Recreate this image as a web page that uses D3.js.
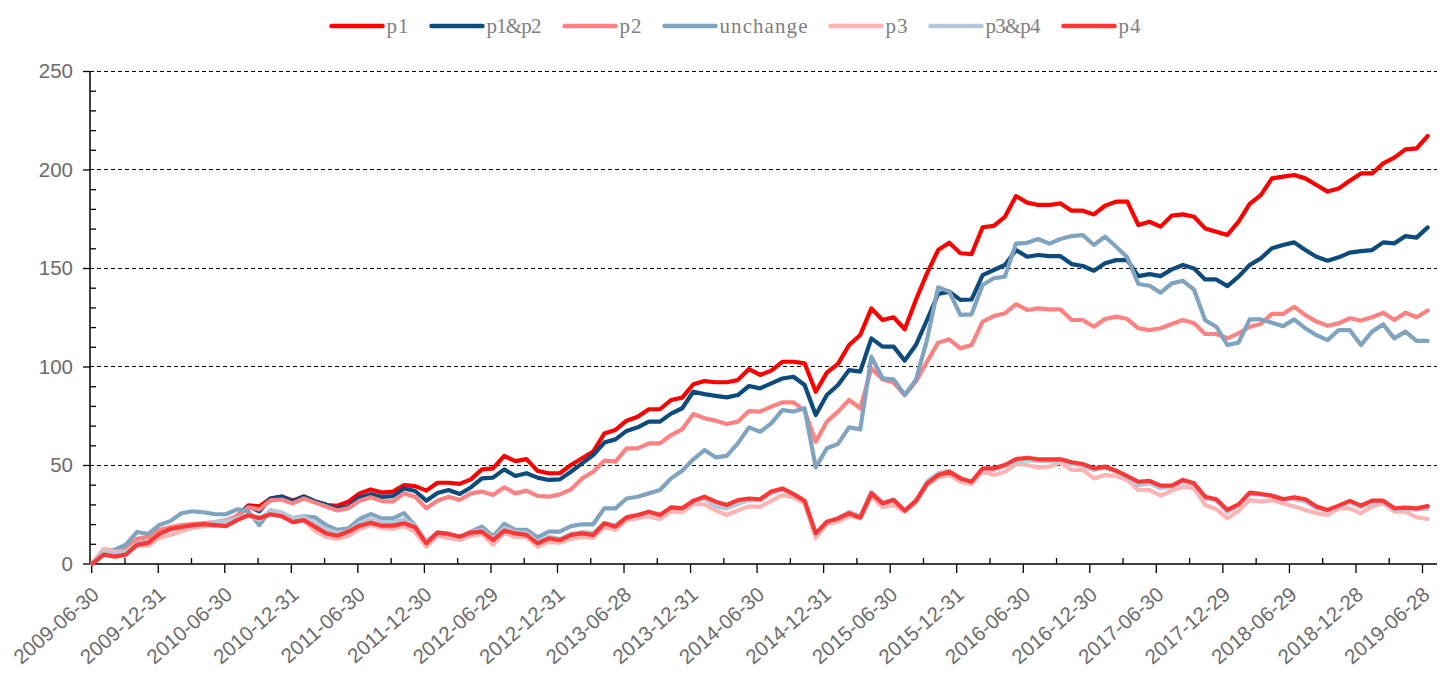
<!DOCTYPE html>
<html><head><meta charset="utf-8">
<script src="https://cdn.jsdelivr.net/npm/d3@7/dist/d3.min.js"></script>
<style>body{margin:0;background:#fff}</style>
</head><body>
<svg id="chart" width="1452" height="684"></svg>
<script>
// ---------- data ----------
const seriesNames = ["p1", "p1&p2", "p2", "unchange", "p3", "p3&p4", "p4"];
const tickLabels = ["2009-06-30","2009-12-31","2010-06-30","2010-12-31","2011-06-30","2011-12-30",
  "2012-06-29","2012-12-31","2013-06-28","2013-12-31","2014-06-30","2014-12-31","2015-06-30",
  "2015-12-31","2016-06-30","2016-12-30","2017-06-30","2017-12-29","2018-06-29","2018-12-28","2019-06-28"];
const yTicks = [0, 50, 100, 150, 200, 250];

const p1 = [0,5,4,5,10,11,15.5,17.5,18.5,19.5,20,19.5,21,24,29.5,29,33,34,32,34,
  31.4,29.7,29.3,31.4,35.6,37.6,36,36.5,39.8,39.3,37,41,41,40.4,42.7,47.8,48.3,54.6,52,53,
  47,45.8,45.8,50,53.4,56.8,66,67.8,72.5,74.5,78.3,78.3,83,84.2,91,92.6,92,92,93.1,98.7,
  95.7,97.9,102.4,102.4,101.6,87.2,96.9,101.3,110.9,116,129.5,123.6,125,118.9,133.8,147.3,159.1,162.8,157.5,157,
  170.7,171.4,176,186.5,183.2,182,182,182.8,179.1,179.1,177.2,181.6,183.7,183.7,171.8,173.5,171,176.6,177.2,176,
  170.1,168.4,166.8,173.5,182.5,187,195.5,196.4,197.2,195.5,192.1,188.8,190.4,194.3,198,198,203.1,206,210.2,210.7,217];
const p1p2 = [0,5,4,5,10,11,15.5,17.5,18.5,19.5,20,19.5,21,24,29,26.5,33,34,31.5,34,
  31.6,29.9,27.8,29,33.5,35.2,33.8,34.2,38.1,36.8,31.9,35.8,37.3,35.3,38.6,43.2,43.6,47.8,44.4,45.8,
  43.6,42.4,42.7,46.6,50.8,55,61.4,63,67.3,69.1,72,72,76.1,78.8,87.2,86,85.1,84.3,85.5,90.1,
  88.9,91.4,93.9,94.8,90.6,75.4,85.5,90.6,98.2,97.4,114.3,110.1,110.1,103,110.9,123.6,136.8,138,133.8,134,
  146.4,149,151.5,159.1,155.7,156.6,156,156,152,151,148.6,152.4,154,154,145.9,146.9,145.9,149.3,151.5,149.8,
  144.2,144.2,140.8,145.6,151.5,154.9,160,161.7,163,159.1,155.7,153.7,155.4,157.8,158.6,159.1,163,162.5,166.2,165.4,170.6];
const p2 = [0,7,6.5,8,12.5,13.5,17,18.5,19.5,20,20.5,21,22,24,28.5,27.5,32,32.5,30.5,33,
  30.9,28.9,26.9,28.1,31.9,33.6,31.7,31.4,35.6,33.9,28,31.9,33.9,32.2,35.6,36.5,34.8,38.7,35.6,37,
  34.3,33.9,35.1,37.6,43.2,46.6,52.2,51.7,58.4,58.4,61,61,65.2,68.1,75.9,73.7,72.5,70.8,72,77.4,
  77.1,79.6,81.8,81.8,77.6,61.8,72,77.1,83,78.8,99.1,93.5,91.8,85.5,92.3,102.4,112.1,113.8,109.2,110.9,
  122.8,125.6,127,131.7,128.7,129.5,129,129,123.6,123.6,120.2,124.1,125.3,124.1,119.4,118.5,119.4,121.6,123.6,121.9,
  116.5,116.5,114.3,116.8,120.2,121.6,126.7,126.7,130.3,126.1,122.8,120.7,121.9,124.5,123.3,125,127.3,123.6,127.3,125,128.4];
const unchange = [0,6,7,9.5,16,15,19.5,21.5,25.5,26.5,26,25,25,27.5,26.5,19.5,27,25.5,23,24,
  23.4,19.5,17.1,17.8,22.6,25.1,22.9,22.9,25.6,19.1,11.1,15.7,15,13.3,16.2,18.7,13.7,20.1,17.1,17.1,
  13.3,16.2,16.2,19,19.9,19.9,28,28,33,33.9,35.6,37.3,43.2,47.1,52.9,57.6,53.9,54.6,61,69.1,
  66.9,71.1,77.9,77.1,78.8,48.8,58.5,60.7,69.1,68.1,105,94,93.5,85.5,93.1,113.5,140.2,138,126.2,126.5,
  141.4,144.8,145.6,162.4,162.8,164.7,162.4,164.7,166.2,166.7,161.7,165.9,160.8,155.4,141.9,141,137.5,142.2,143.5,139,
  123.5,120.2,110.9,112.1,123.9,123.9,122.2,120.5,123.9,119.4,115.9,113.4,118.5,118.5,110.9,117.7,121.4,114.3,117.7,113,113];
const p3 = [0,7.5,6,6,9,9,13,14.5,16.5,18,19,19.5,20.5,22.5,24.5,23.5,25,24,21.5,22,
  16.5,13.5,12.5,14,17.5,19.5,18,17.5,19,16,8.5,14,13,12,14,15,9.5,15.5,13.5,13.5,
  8.5,11,10.5,12.5,13.5,13,18.7,17,22,23,24,22.5,26.5,26,30.2,30,27,24.6,27,29,
  28.8,31.8,34.7,33.6,30.5,12.8,20,21.2,24.1,22.9,34.3,28.6,29.7,26.3,30.9,39.8,43.7,44.9,41.5,40.3,
  46.6,44.9,46.6,50.5,50,48.8,49.2,51.2,47.5,47.5,43.2,44.9,44.4,42.4,37.3,37.3,34.4,37,39,38.2,
  29.7,27.5,22.9,26.8,32.2,31.4,32.2,30.5,28.9,27.2,25.5,24.6,28,28,25.5,28.9,30.5,26.3,26.3,23.4,22.6];
const p3p4 = [0,6,5,6,10,11,15,17,18.5,19.5,20,21,21.5,23,24.5,22,27,26,23,23.5,
  20.5,17.5,15.5,16.5,20.5,22.5,21,21,22.5,19,11,15.5,15,13.5,16,17,12.5,18,16,15.5,
  11,13.5,12.5,15,16,15.5,20.5,19.5,23.5,24.5,26,24.5,28.5,28,31.5,33,29,28,30.2,32.2,
  32,35.5,37.5,35,31.5,14.5,21,23,26.3,24,36.5,31,32.5,27,32,41.5,45.8,47.1,43.5,41,
  47.5,47.5,49.5,51.7,52.5,52,52,52.2,50.5,49.5,47.5,48.5,46.5,43.5,39.8,40.7,38.2,39,41.5,40,
  33,32,26,29.4,35.5,35,34.7,33,32.5,31.5,28,26.5,29,31,28.5,31,31,27.5,27.5,27.3,27.8];
const p4 = [0,4.5,3.5,4.5,9.5,10.5,15,17.5,18.5,19.5,20,19.5,19,22,24.5,23,25,24,21,22,
  18.6,15.3,14.1,16.2,19.2,20.7,19.2,19.2,20.4,18.4,10.2,15.7,15,13.6,15.7,16.2,11.9,16.7,15.3,14.5,
  10.2,12.8,11.9,14.5,15.3,14.5,20.4,18.7,23.4,24.6,26.3,24.6,28.5,28,31.9,33.9,31.4,29.7,32.2,33,
  32.6,36.5,38.1,35.2,31.8,15.3,21.2,22.9,25.5,23.3,35.6,30.5,32.2,26.8,31.8,40.6,44.9,46.6,43.2,41.5,
  48.3,48.3,50,53,53.7,52.9,52.9,52.9,51.4,50.5,48.3,49.2,47.1,44.4,41.5,41.9,39.5,39.5,42.4,40.7,
  33.9,32.6,27.2,30,36,35.3,34.4,32.6,33.6,32.6,28.9,27.2,29.4,31.8,29.4,31.9,31.9,28,28.4,28,29.1];

const seriesValues = [p1, p1p2, p2, unchange, p3, p3p4, p4];
const seriesColors = ["#ff0000", "#0c4b7c", "#ff8282", "#80a3c0", "#ffb3b3", "#b3c9db", "#ff3636"];

// ---------- layout ----------
const svg = d3.select("#chart");
const W = 1452;
const plotLeft = 90, plotRight = 1437, plotTop = 71, plotBottom = 564;
const labelColor = "#6b6b6b";

const y = d3.scaleLinear().domain([0, 250]).range([563.5, plotTop]);
const xData = d3.scaleLinear().domain([0, p1.length - 1]).range([92.5, 1427.7]);
const xTick = d3.scaleLinear().domain([0, tickLabels.length - 1]).range([91.2, 1422]);

// grid lines
svg.append("g").selectAll("line").data(yTicks.filter(d => d > 0)).join("line")
  .attr("x1", plotLeft).attr("x2", plotRight)
  .attr("y1", d => y(d)).attr("y2", d => y(d))
  .attr("stroke", "#000").attr("stroke-width", 1).attr("stroke-dasharray", "4,3")
  .attr("shape-rendering", "crispEdges");

// y axis major
const yAxisG = svg.append("g").attr("transform", `translate(${plotLeft},0)`)
  .call(d3.axisLeft(y).tickValues(yTicks).tickSize(7).tickPadding(10).tickFormat(d3.format("d")));
yAxisG.select(".domain").remove();
yAxisG.selectAll("line").attr("stroke", "#000").attr("stroke-width", 1.3);
yAxisG.selectAll("text").attr("font-family", "'Liberation Sans', Arial, sans-serif")
  .attr("font-size", 20.5).attr("fill", labelColor);
// y axis minor (inside)
const yMinor = d3.range(0, 251, 10).filter(d => d % 50 !== 0);
const yMinorG = svg.append("g").attr("transform", `translate(${plotLeft},0)`)
  .call(d3.axisRight(y).tickValues(yMinor).tickSize(6).tickFormat(""));
yMinorG.select(".domain").remove();
yMinorG.selectAll("line").attr("stroke", "#000").attr("stroke-width", 1.3);
svg.append("line").attr("x1", plotLeft).attr("x2", plotLeft).attr("y1", plotTop).attr("y2", plotBottom)
  .attr("stroke", "#000").attr("stroke-width", 1.5);

// x axis major
const xAxisG = svg.append("g").attr("transform", `translate(0,${plotBottom})`)
  .call(d3.axisBottom(xTick).tickValues(d3.range(tickLabels.length)).tickSize(9)
    .tickFormat(i => tickLabels[i]));
xAxisG.select(".domain").remove();
xAxisG.selectAll("line").attr("stroke", "#000").attr("stroke-width", 1.3);
xAxisG.selectAll("text")
  .attr("font-family", "'Liberation Sans', Arial, sans-serif").attr("font-size", 20.5)
  .attr("fill", labelColor).attr("text-anchor", "end")
  .attr("y", 0).attr("dy", "0.35em")
  .attr("transform", "translate(4,27) rotate(-41)");
// x axis minor (inside)
const xMinorG = svg.append("g").attr("transform", `translate(0,${plotBottom})`)
  .call(d3.axisTop(xTick).tickValues(d3.range(0.5, tickLabels.length - 1, 1)).tickSize(6).tickFormat(""));
xMinorG.select(".domain").remove();
xMinorG.selectAll("line").attr("stroke", "#000").attr("stroke-width", 1.3);
svg.append("line").attr("x1", plotLeft).attr("x2", plotRight).attr("y1", plotBottom).attr("y2", plotBottom)
  .attr("stroke", "#000").attr("stroke-width", 1.5);

// lines
const line = d3.line().x((d, i) => xData(i)).y(d => y(d));
svg.append("g").selectAll("path").data(seriesValues).join("path")
  .attr("d", d => line(d))
  .attr("fill", "none")
  .attr("stroke", (d, i) => seriesColors[i])
  .attr("stroke-width", 4.2)
  .attr("stroke-linejoin", "round")
  .attr("stroke-linecap", "round");

// legend
const legend = svg.append("g");
const legY = 26, lineLen = 51, gapText = 4, gapItem = 23, charW = 11;
const items = legend.selectAll("g").data(seriesNames).join("g");
items.append("line").attr("x1", 0).attr("x2", lineLen).attr("y1", legY).attr("y2", legY)
  .attr("stroke", (d, i) => seriesColors[i]).attr("stroke-width", 4.5).attr("stroke-linecap", "round");
items.append("text").attr("x", lineLen + gapText).attr("y", legY).attr("dy", "0.35em")
  .attr("font-family", "'Liberation Serif', 'Times New Roman', serif").attr("font-size", 21)
  .attr("fill", "#7f7f7f")
  .attr("textLength", d => d.length * charW).attr("lengthAdjust", "spacing")
  .text(d => d);
let cx = 0;
const offsets = [];
seriesNames.forEach(n => { offsets.push(cx); cx += lineLen + gapText + n.length * charW + gapItem; });
const total = cx - gapItem;
const start = 736 - total / 2;
items.attr("transform", (d, i) => `translate(${start + offsets[i]},0)`);
</script>
</body></html>
